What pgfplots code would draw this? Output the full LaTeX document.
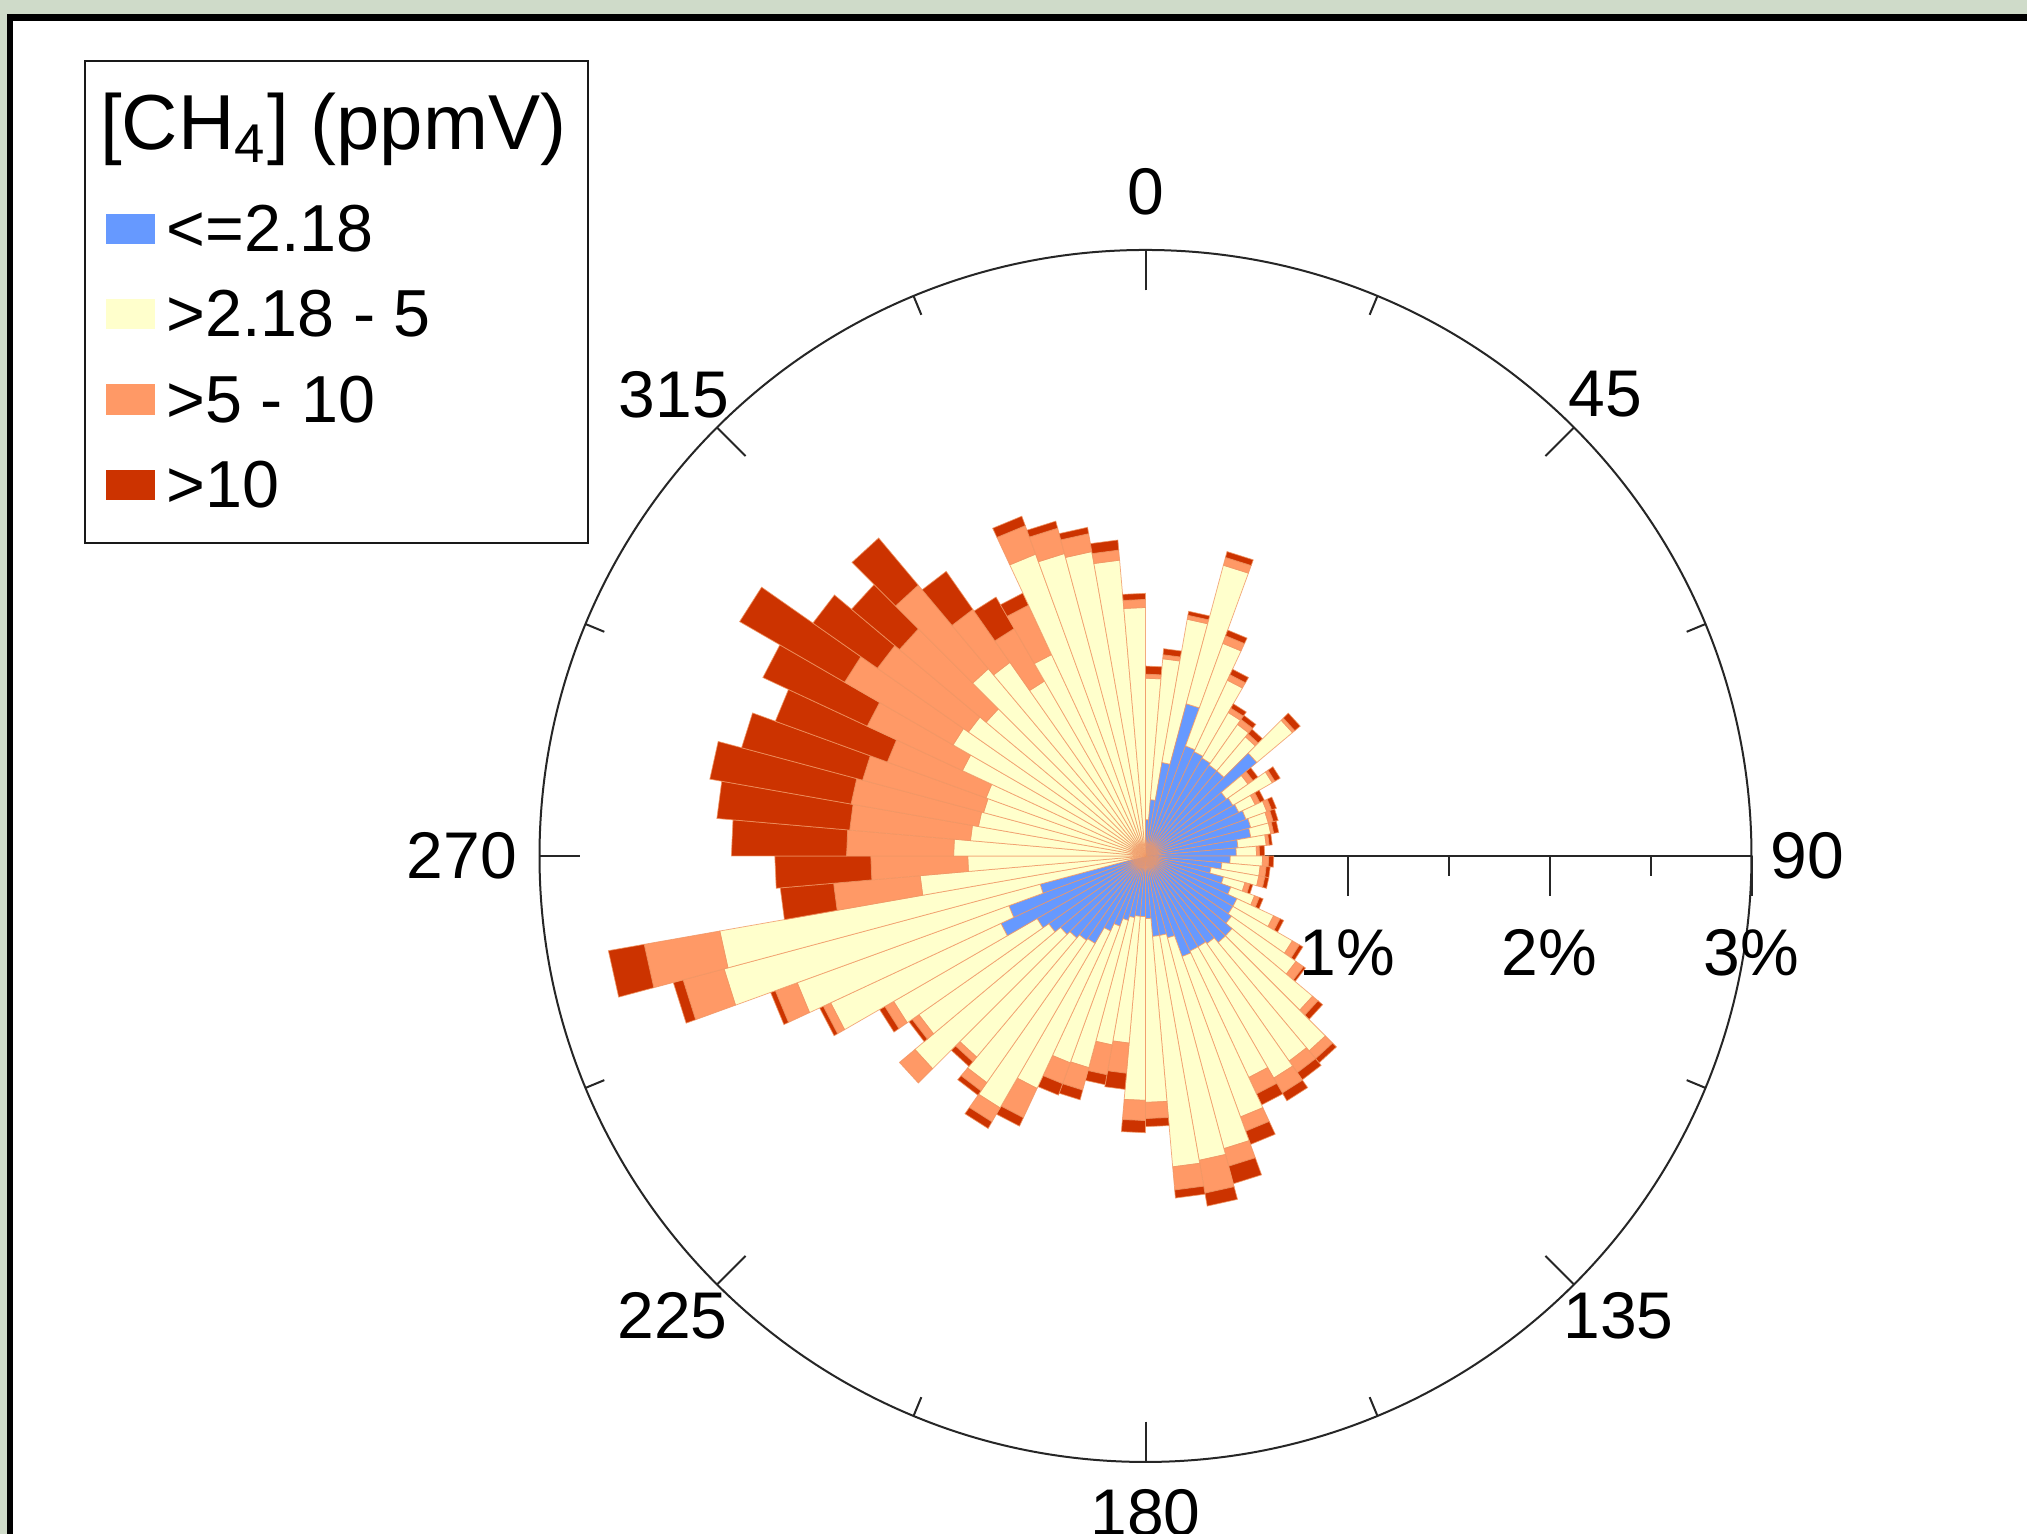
\documentclass[border=0pt]{standalone}
\usepackage{pgfplots}
\pgfplotsset{compat=1.18}
\usepackage{pgfplotstable}
\usepackage{fontspec}
\setmainfont{Liberation Sans}
\definecolor{cblue}{RGB}{102,153,255}
\definecolor{cyel}{RGB}{255,255,204}
\definecolor{cora}{RGB}{255,153,102}
\definecolor{cred}{RGB}{204,51,0}
\definecolor{edgec}{RGB}{240,150,100}
\definecolor{bggreen}{RGB}{207,219,201}

% compass angle (bin centre), cumulative radii in %: blue, yellow, orange, red
\pgfplotstableread{
a b y o r
2.5 0.18 0.88 0.90 0.94
7.5 0.28 0.98 1.00 1.03
12.5 0.47 1.19 1.21 1.23
17.5 0.78 1.49 1.53 1.56
22.5 0.58 1.12 1.16 1.19
27.5 0.57 0.96 0.99 1.02
32.5 0.56 0.82 0.845 0.87
37.5 0.55 0.795 0.825 0.85
42.5 0.55 0.77 0.79 0.82
47.5 0.72 0.95 0.965 1.00
52.5 0.49 0.62 0.65 0.68
57.5 0.50 0.725 0.74 0.77
62.5 0.51 0.60 0.625 0.65
67.5 0.53 0.64 0.665 0.69
72.5 0.54 0.63 0.655 0.68
77.5 0.53 0.63 0.645 0.67
82.5 0.46 0.60 0.615 0.63
87.5 0.45 0.55 0.565 0.59
92.5 0.42 0.58 0.61 0.635
97.5 0.38 0.57 0.60 0.62
102.5 0.33 0.57 0.60 0.62
107.5 0.40 0.51 0.535 0.55
112.5 0.45 0.575 0.60 0.62
117.5 0.50 0.70 0.735 0.755
122.5 0.50 0.84 0.88 0.90
127.5 0.52 0.91 0.955 0.967
132.5 0.56 1.08 1.115 1.145
137.5 0.56 1.26 1.31 1.337
142.5 0.53 1.24 1.31 1.353
147.5 0.52 1.27 1.355 1.40
152.5 0.52 1.21 1.30 1.36
157.5 0.53 1.375 1.45 1.52
162.5 0.42 1.50 1.59 1.68
167.5 0.40 1.53 1.695 1.76
172.5 0.40 1.545 1.66 1.70
177.5 0.31 1.22 1.30 1.34
182.5 0.30 1.21 1.31 1.37
187.5 0.30 0.93 1.08 1.16
192.5 0.31 0.95 1.10 1.15
197.5 0.33 1.085 1.20 1.25
202.5 0.37 1.09 1.20 1.26
207.5 0.41 1.27 1.43 1.476
212.5 0.50 1.44 1.52 1.558
217.5 0.51 1.37 1.42 1.446
222.5 0.53 1.30 1.33 1.36
227.5 0.55 1.49 1.59 1.59
232.5 0.585 1.37 1.41 1.43
237.5 0.62 1.44 1.49 1.52
242.5 0.79 1.72 1.76 1.78
247.5 0.72 1.835 1.95 1.975
252.5 0.54 2.16 2.37 2.42
257.5 0 2.14 2.52 2.70
262.5 0 1.12 1.55 1.815
267.5 0 0.88 1.36 1.835
272.5 0 0.95 1.48 2.05
277.5 0 0.87 1.47 2.13
282.5 0 0.84 1.48 2.19
287.5 0 0.83 1.45 2.07
292.5 0 0.84 1.36 1.95
297.5 0 1.00 1.52 2.09
302.5 0 1.10 1.72 2.32
307.5 0 1.07 1.62 2.01
312.5 0 1.03 1.59 1.90
317.5 0 1.21 1.75 2.055
322.5 0 1.17 1.49 1.72
327.5 0 1.00 1.30 1.48
332.5 0 1.10 1.37 1.436
337.5 0 1.59 1.74 1.79
342.5 0 1.55 1.68 1.716
347.5 0 1.53 1.62 1.652
352.5 0 1.47 1.52 1.57
357.5 0 1.23 1.27 1.30
}\rose

% #1 compass angle of bin centre, #2 inner radius, #3 outer radius, #4 colour
\newcommand\drawwedge[4]{%
  \pgfmathsetmacro\dd{#3-#2}%
  \ifdim\dd pt>0.0005pt
    \pgfmathsetmacro\tA{90-#1+2.5}%
    \pgfmathsetmacro\tB{90-#1-2.5}%
    \pgfmathsetmacro\xa{#2*cos(\tA)}\pgfmathsetmacro\ya{#2*sin(\tA)}%
    \pgfmathsetmacro\xb{#3*cos(\tA)}\pgfmathsetmacro\yb{#3*sin(\tA)}%
    \pgfmathsetmacro\xc{#3*cos(\tB)}\pgfmathsetmacro\yc{#3*sin(\tB)}%
    \pgfmathsetmacro\xd{#2*cos(\tB)}\pgfmathsetmacro\yd{#2*sin(\tB)}%
    \edef\tmp{\noexpand\addplot[fill=#4,draw=edgec,draw opacity=0.8,line width=0.15pt,forget plot] coordinates {(\xa,\ya) (\xb,\yb) (\xc,\yc) (\xd,\yd) (\xa,\ya)};}%
    \tmp
  \fi
}

\begin{document}
\begin{tikzpicture}
\useasboundingbox (0,0) rectangle (405.4pt,306.8pt);
\clip (0,0) rectangle (405.4pt,306.8pt);
\fill[bggreen] (0,0) rectangle (405.4pt,306.8pt);
\filldraw[fill=white,draw=black,line width=1.4pt] (2pt,-20pt) rectangle (430pt,303.3pt);

% polar frame (drawn below the bars)
\begin{scope}[shift={(229.1pt,135.6pt)},x=40.4pt,y=40.4pt]
  \draw[line width=0.4pt,black!85] (0,0) circle[radius=121.2pt];
  \foreach \a in {0,45,...,315}
    \draw[line width=0.4pt,black!85] ({2.8*sin(\a)},{2.8*cos(\a)}) -- ({3*sin(\a)},{3*cos(\a)});
  \foreach \a in {22.5,67.5,...,337.5}
    \draw[line width=0.4pt,black!85] ({2.9*sin(\a)},{2.9*cos(\a)}) -- ({3*sin(\a)},{3*cos(\a)});
  \draw[line width=0.4pt,black!85] (0,0) -- (3,0);
  \foreach \r in {1,2,3} \draw[line width=0.4pt,black!85] (\r,0) -- (\r,-0.2);
  \foreach \r in {0.5,1.5,2.5} \draw[line width=0.4pt,black!85] (\r,0) -- (\r,-0.1);
\end{scope}

\begin{axis}[at={(0,0)},anchor=south west,scale only axis,
  width=405.4pt,height=306.8pt,
  xmin=-5.6708,xmax=4.3639,ymin=-3.3564,ymax=4.2376,
  hide axis,clip=false]
\pgfplotsforeachungrouped \i in {0,...,71}{%
  \pgfplotstablegetelem{\i}{a}\of\rose \let\vA\pgfplotsretval
  \pgfplotstablegetelem{\i}{b}\of\rose \let\vB\pgfplotsretval
  \pgfplotstablegetelem{\i}{y}\of\rose \let\vY\pgfplotsretval
  \pgfplotstablegetelem{\i}{o}\of\rose \let\vO\pgfplotsretval
  \pgfplotstablegetelem{\i}{r}\of\rose \let\vR\pgfplotsretval
  \drawwedge{\vA}{0}{\vB}{cblue}%
  \drawwedge{\vA}{\vB}{\vY}{cyel}%
  \drawwedge{\vA}{\vY}{\vO}{cora}%
  \drawwedge{\vA}{\vO}{\vR}{cred}%
}
\end{axis}

\begin{scope}[shift={(229.1pt,135.6pt)},x=40.4pt,y=40.4pt,
  every node/.style={inner sep=0pt,font=\fontsize{13.2pt}{15pt}\selectfont}]
  \node at (0,3.289) {0};
  \node at (2.278,2.284) {45};
  \node at (3.276,0) {90};
  \node at (2.342,-2.278) {135};
  \node at (0,-3.25) {180};
  \node at (-2.342,-2.278) {225};
  \node at (-3.385,0) {270};
  \node at (-2.335,2.284) {315};
  \node at (1,-0.48) {1\%};
  \node at (2,-0.48) {2\%};
  \node at (3,-0.48) {3\%};
  % legend
  \draw[line width=0.4pt,black!90] (-5.249,1.550) rectangle (-2.759,3.937);
  \node[anchor=west,font=\fontsize{15.6pt}{18pt}\selectfont] at (-5.18,3.595) {[CH\textsubscript{4}] (ppmV)};
  \fill[cblue] (-5.146,3.030) rectangle (-4.903,3.180);
  \fill[cyel]  (-5.146,2.608) rectangle (-4.903,2.758);
  \fill[cora]  (-5.146,2.185) rectangle (-4.903,2.335);
  \fill[cred]  (-5.146,1.763) rectangle (-4.903,1.913);
  \node[anchor=west,font=\fontsize{13.3pt}{16pt}\selectfont] at (-4.851,3.105) {<=2.18};
  \node[anchor=west,font=\fontsize{13.3pt}{16pt}\selectfont] at (-4.851,2.683) {>2.18 - 5};
  \node[anchor=west,font=\fontsize{13.3pt}{16pt}\selectfont] at (-4.851,2.260) {>5 - 10};
  \node[anchor=west,font=\fontsize{13.3pt}{16pt}\selectfont] at (-4.851,1.838) {>10};
\end{scope}
\end{tikzpicture}
\end{document}
